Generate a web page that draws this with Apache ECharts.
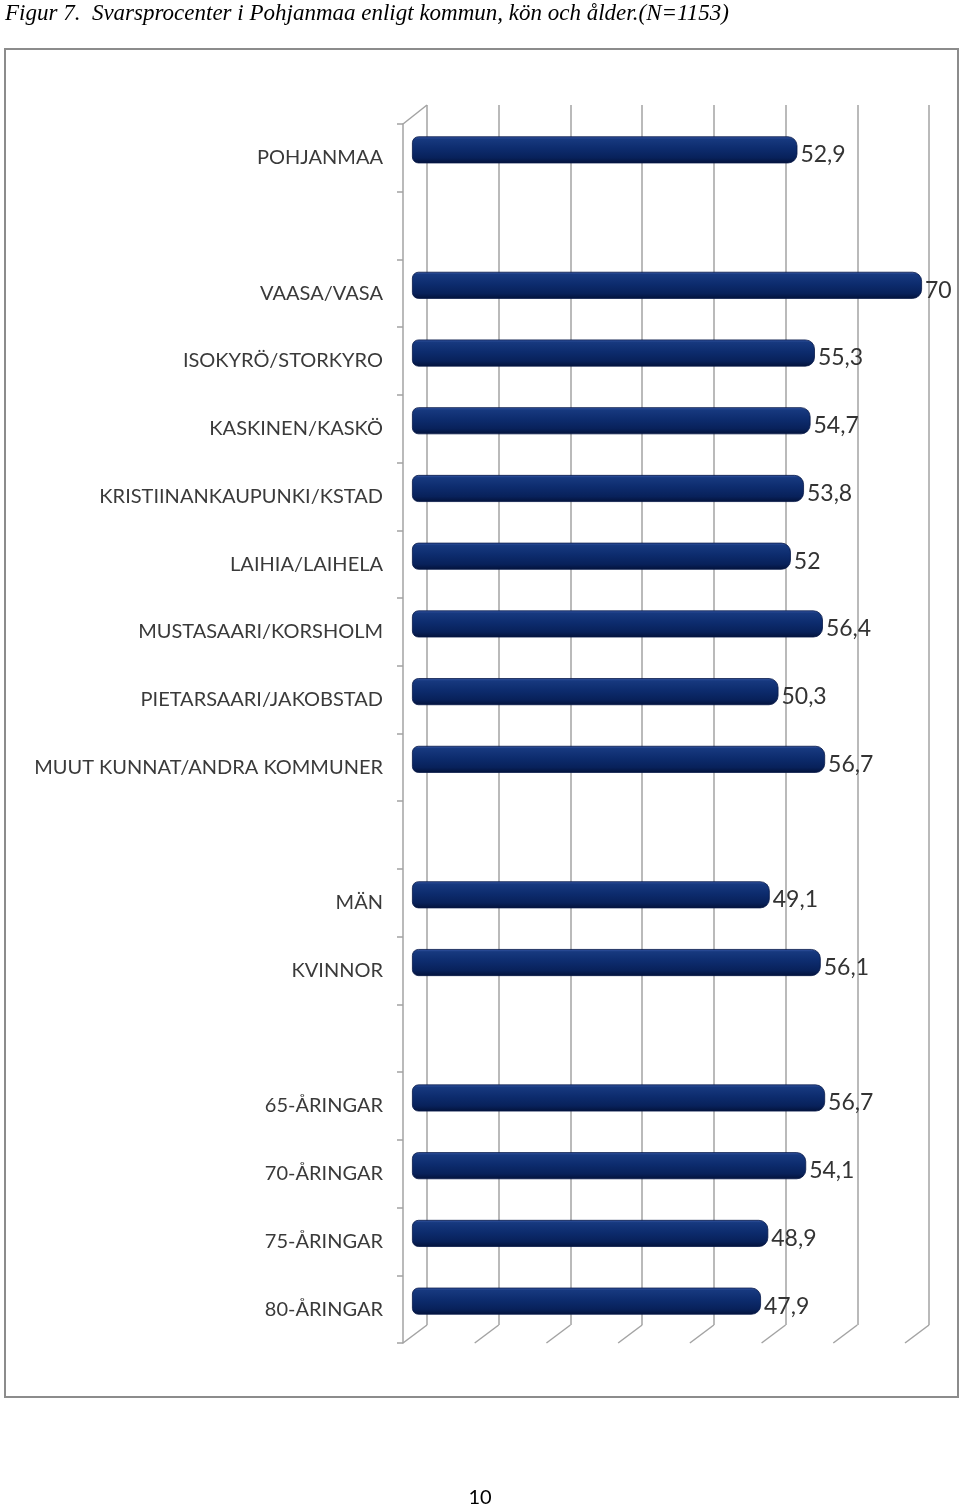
<!DOCTYPE html>
<html>
<head>
<meta charset="utf-8">
<script src="https://cdn.jsdelivr.net/npm/echarts@6/dist/echarts.min.js"></script>
<style>
  html, body { margin: 0; padding: 0; background: #ffffff; }
  #chart { width: 960px; height: 1509px; }
</style>
</head>
<body>
<div id="chart"></div>
<script>
const titleText = 'Figur 7.  Svarsprocenter i Pohjanmaa enligt kommun, kön och ålder.(N=1153)';
const pageNumber = '10';
const categories = [
  'POHJANMAA', '',
  'VAASA/VASA', 'ISOKYRÖ/STORKYRO', 'KASKINEN/KASKÖ', 'KRISTIINANKAUPUNKI/KSTAD',
  'LAIHIA/LAIHELA', 'MUSTASAARI/KORSHOLM', 'PIETARSAARI/JAKOBSTAD', 'MUUT KUNNAT/ANDRA KOMMUNER', '',
  'MÄN', 'KVINNOR', '',
  '65-ÅRINGAR', '70-ÅRINGAR', '75-ÅRINGAR', '80-ÅRINGAR'
];
const values = [
  52.9, null,
  70, 55.3, 54.7, 53.8, 52, 56.4, 50.3, 56.7, null,
  49.1, 56.1, null,
  56.7, 54.1, 48.9, 47.9
];
const axisMin = 0, axisMax = 70, axisStep = 10;

// layout
const FRONT = { left: 403, top: 124, bottom: 1343 };
const WALL = { left: 427, right: 929, top: 105, bottom: 1325 };
const BARS = { left: 412, right: 922, top: 116 };

const chart = echarts.init(document.getElementById('chart'), null, { renderer: 'canvas' });
const lineColor = '#a3a3a3';
const option = {
  backgroundColor: '#ffffff',
  animation: false,
  title: {
    text: titleText,
    left: 0, top: -3,
    textStyle: { fontFamily: 'Liberation Serif', fontStyle: 'italic', fontWeight: 'normal', fontSize: 23, color: '#000' }
  },
  grid: [
    { left: FRONT.left, top: FRONT.top, width: 500, height: FRONT.bottom - FRONT.top },
    { left: WALL.left, top: WALL.top, width: WALL.right - WALL.left, height: WALL.bottom - WALL.top },
    { left: BARS.left, top: BARS.top, width: BARS.right - BARS.left, height: FRONT.bottom - FRONT.top }
  ],
  xAxis: [
    { gridIndex: 0, type: 'value', min: axisMin, max: axisMax, show: false },
    { gridIndex: 1, type: 'value', min: axisMin, max: axisMax, interval: axisStep,
      axisLine: { show: false }, axisTick: { show: false }, axisLabel: { show: false },
      splitLine: { show: true, lineStyle: { color: lineColor, width: 1.5 } } },
    { gridIndex: 2, type: 'value', min: axisMin, max: axisMax, show: false }
  ],
  yAxis: [
    { gridIndex: 0, type: 'category', inverse: true, data: categories,
      axisLine: { show: true, lineStyle: { color: lineColor, width: 1.5 } },
      axisTick: { show: true, length: 6, lineStyle: { color: lineColor, width: 1.5 } },
      axisLabel: { margin: 20, fontFamily: 'Lato', fontSize: 20, color: '#3a3a3a', padding: [4, 0, 0, 0] },
      splitLine: { show: false } },
    { gridIndex: 1, type: 'value', show: false },
    { gridIndex: 2, type: 'category', inverse: true, data: categories, show: false }
  ],
  series: [{
    type: 'bar',
    xAxisIndex: 2, yAxisIndex: 2,
    data: values,
    barWidth: 27,
    itemStyle: {
      color: { type: 'linear', x: 0, y: 0, x2: 0, y2: 1, colorStops: [
        { offset: 0, color: '#3a5aa8' },
        { offset: 0.1, color: '#17397f' },
        { offset: 0.45, color: '#0d2c6e' },
        { offset: 0.8, color: '#08215a' },
        { offset: 1, color: '#03123a' }
      ] },
      borderColor: '#061847', borderWidth: 0.8,
      borderRadius: [6, 9, 9, 6]
    },
    label: {
      show: true, position: 'right', distance: 3, offset: [0, 5],
      fontFamily: 'Lato', fontSize: 23, color: '#333',
      formatter: p => String(p.value).replace('.', ',')
    }
  }],
  graphic: []
};
chart.setOption(option);

// decorative 3D frame lines derived from the wall axis ticks
const dx = WALL.left - FRONT.left, dy = FRONT.bottom - WALL.bottom;
const g = [
  { type: 'rect', shape: { x: 5, y: 49, width: 953, height: 1348 }, style: { fill: null, stroke: '#8c8c8c', lineWidth: 2 } },
  { type: 'line', shape: { x1: FRONT.left, y1: FRONT.top, x2: WALL.left, y2: WALL.top }, style: { stroke: lineColor, lineWidth: 1.5 } },
  { type: 'text', style: { text: pageNumber, x: 480, y: 1498, align: 'center', verticalAlign: 'middle', fontFamily: 'Lato', fontSize: 20, fill: '#000' } }
];
for (let v = axisMin; v <= axisMax; v += axisStep) {
  const x = chart.convertToPixel({ xAxisIndex: 1 }, v);
  g.push({ type: 'line', shape: { x1: x - dx, y1: WALL.bottom + dy, x2: x, y2: WALL.bottom }, style: { stroke: lineColor, lineWidth: 1.5 } });
}
chart.setOption({ graphic: g });
</script>
</body>
</html>
